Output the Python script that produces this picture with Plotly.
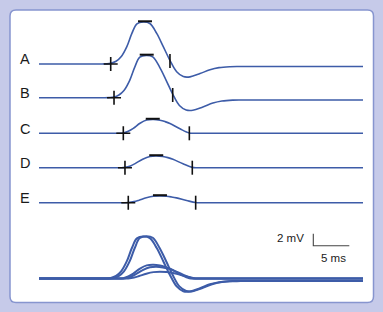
import plotly.graph_objects as go

# ---------------- data (time in ms, voltage in mV relative to baseline) ----------------
labels = ["A", "B", "C", "D", "E"]

A_t = [0, 8.5, 9.3, 9.96, 10.7, 11.4, 12.2, 12.9, 13.6, 14.5, 15.4, 16.35, 17.26, 18.19, 19.12, 20.04, 20.97, 22.36, 23.75, 25.0, 26.5, 28.0, 45]
A_v = [0, 0, 0.02, 0.1, 0.45, 1.2, 2.9, 5.1, 6.7, 7.0, 6.75, 5.1, 2.9, 0.6, -1.3, -2.1, -2.15, -1.6, -0.95, -0.6, -0.45, -0.42, -0.42]

B_t = [0, 8.9, 9.7, 10.42, 11.1, 11.8, 12.6, 13.3, 14.0, 14.9, 15.8, 16.75, 17.66, 18.57, 19.5, 20.44, 21.37, 22.76, 24.15, 25.4, 26.9, 28.4, 45]
B_v = [0, 0, 0.02, 0.1, 0.45, 1.2, 2.9, 5.1, 6.75, 7.05, 6.8, 5.1, 2.9, 0.6, -1.3, -2.05, -2.1, -1.55, -0.9, -0.55, -0.4, -0.38, -0.38]

C_t = [0, 10.2, 11.0, 11.71, 12.4, 13.1, 14.03, 14.96, 15.9, 16.8, 17.5, 18.19, 19.58, 20.88, 21.6, 22.5, 45]
C_v = [0, 0, 0.0, 0.05, 0.35, 0.83, 1.67, 2.2, 2.3, 2.17, 1.95, 1.65, 0.75, 0.05, 0, 0, 0]

D_t = [0, 10.5, 11.3, 11.94, 12.7, 13.4, 14.4, 15.4, 16.3, 17.2, 17.9, 18.6, 20.0, 21.29, 22.0, 22.9, 45]
D_v = [0, 0, 0.0, 0.05, 0.3, 0.72, 1.42, 1.88, 1.96, 1.86, 1.68, 1.4, 0.65, 0.05, 0, 0, 0]

E_t = [0, 11.0, 11.8, 12.4, 13.2, 13.9, 14.9, 15.9, 16.8, 17.7, 18.4, 19.1, 20.5, 21.76, 22.5, 23.4, 45]
E_v = [0, 0, 0.0, 0.03, 0.18, 0.42, 0.82, 1.08, 1.13, 1.08, 0.96, 0.8, 0.37, 0.03, 0, 0, 0]

# markers: onset (+), peak (-), end (|)
onset_ms = [9.96, 10.42, 11.71, 11.94, 12.4]
peak_ms = [14.72, 14.96, 15.8, 16.28, 16.8]
peak_mv = [7.12, 7.17, 2.42, 2.08, 1.25]
end_ms = [18.19, 18.57, 20.88, 21.29, 21.76]
end_mv = [0.5, 0.45, 0.0, 0.0, 0.0]

scale_ms = 5
scale_mv = 2

# ---------------- layout constants (pixels) ----------------
W, H = 383, 312
PX_PER_MS = 7.2
PX_PER_MV = 6.0
X0_PX = 39.0
row_base_px = [64.0, 97.7, 133.3, 167.7, 202.7]
overlay_base_px = 278.6
BLUE = "#3d5ca8"
FONT = "Liberation Sans, Arial, Helvetica, sans-serif"


def ms_from_px(px):
    return (px - X0_PX) / PX_PER_MS


def mv_from_px(py):
    return -py / PX_PER_MV


series = [(A_t, A_v), (B_t, B_v), (C_t, C_v), (D_t, D_v), (E_t, E_v)]

fig = go.Figure()

# individual rows
for i, (t, v) in enumerate(series):
    off = mv_from_px(row_base_px[i])
    fig.add_trace(go.Scatter(x=t, y=[off + a for a in v], mode="lines",
                             line=dict(color=BLUE, width=1.6, shape="spline", smoothing=1.0),
                             hoverinfo="skip", showlegend=False))

# superimposed at bottom
off_o = mv_from_px(overlay_base_px)
for t, v in series:
    fig.add_trace(go.Scatter(x=t, y=[off_o + a for a in v], mode="lines",
                             line=dict(color=BLUE, width=2.0, shape="spline", smoothing=1.0),
                             hoverinfo="skip", showlegend=False))

# tick markers
offs = [mv_from_px(b) for b in row_base_px]
fig.add_trace(go.Scatter(x=onset_ms, y=offs, mode="markers",
                         marker=dict(symbol="cross-thin", size=10, line=dict(width=1.6, color="#111")),
                         hoverinfo="skip", showlegend=False))
fig.add_trace(go.Scatter(x=peak_ms, y=[o + p for o, p in zip(offs, peak_mv)], mode="markers",
                         marker=dict(symbol="line-ew", size=10, line=dict(width=2.0, color="#111")),
                         hoverinfo="skip", showlegend=False))
fig.add_trace(go.Scatter(x=end_ms, y=[o + p for o, p in zip(offs, end_mv)], mode="markers",
                         marker=dict(symbol="line-ns", size=10, line=dict(width=1.6, color="#111")),
                         hoverinfo="skip", showlegend=False))

# scale bar
sb_x = ms_from_px(313.3)
sb_y = mv_from_px(245.7)
fig.add_trace(go.Scatter(x=[sb_x, sb_x, sb_x + scale_ms], y=[sb_y + scale_mv, sb_y, sb_y],
                         mode="lines", line=dict(color="#444", width=1.1),
                         hoverinfo="skip", showlegend=False))

annotations = []
for i, lab in enumerate(labels):
    annotations.append(dict(x=ms_from_px(25.2), y=mv_from_px(row_base_px[i] - 4.8), text=lab,
                            showarrow=False, xanchor="center", yanchor="middle",
                            font=dict(family=FONT, size=14.5, color="#1a1a1a")))
annotations.append(dict(x=ms_from_px(306), y=mv_from_px(237.5), text=f"{scale_mv} mV", showarrow=False,
                        xanchor="right", yanchor="middle",
                        font=dict(family=FONT, size=11.5, color="#1a1a1a")))
annotations.append(dict(x=ms_from_px(333.5), y=mv_from_px(257.5), text=f"{scale_ms} ms", showarrow=False,
                        xanchor="center", yanchor="middle",
                        font=dict(family=FONT, size=11.5, color="#1a1a1a")))

# rounded white panel in paper coordinates
def P(px, py):
    return f"{px / W:.5f},{1 - py / H:.5f}"

x0, y0, x1, y1, r = 10.0, 10.0, 373.5, 302.5, 6.0
path = (f"M {P(x0 + r, y0)} L {P(x1 - r, y0)} Q {P(x1, y0)} {P(x1, y0 + r)} "
        f"L {P(x1, y1 - r)} Q {P(x1, y1)} {P(x1 - r, y1)} "
        f"L {P(x0 + r, y1)} Q {P(x0, y1)} {P(x0, y1 - r)} "
        f"L {P(x0, y0 + r)} Q {P(x0, y0)} {P(x0 + r, y0)} Z")

fig.update_layout(
    width=W, height=H,
    margin=dict(l=0, r=0, t=0, b=0),
    paper_bgcolor="#c6cae9",
    plot_bgcolor="#c6cae9",
    xaxis=dict(range=[ms_from_px(0), ms_from_px(W)], visible=False, fixedrange=True),
    yaxis=dict(range=[mv_from_px(H), mv_from_px(0)], visible=False, fixedrange=True),
    shapes=[dict(type="path", xref="paper", yref="paper", path=path,
                 fillcolor="white", line=dict(color="#8795cf", width=1.5), layer="below")],
    annotations=annotations,
)

fig.write_html("out.html")
